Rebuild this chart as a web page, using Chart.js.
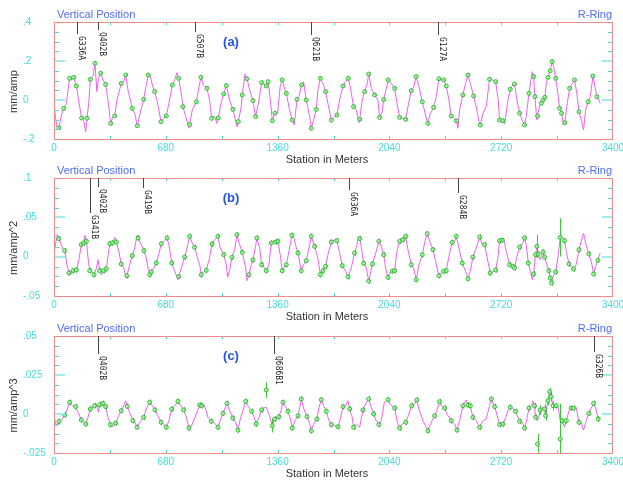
<!DOCTYPE html>
<html>
<head>
<meta charset="utf-8">
<script src="https://cdn.jsdelivr.net/npm/chart.js@4.4.1/dist/chart.umd.min.js"></script>
<style>
  html, body { margin: 0; padding: 0; background: #fff; }
  body { position: relative; width: 623px; height: 480px; overflow: hidden; }
  canvas { position: absolute; left: 0; display: block; }
</style>
</head>
<body>
<canvas id="chartA" width="623" height="166" style="top:0"></canvas>
<canvas id="chartB" width="623" height="156" style="top:166px"></canvas>
<canvas id="chartC" width="623" height="158" style="top:322px"></canvas>
<script>
/* Three stacked orbit-response panels: magenta fitted orbit, green BPM readings
   with error bars, element markers along the top edge. */

// [station m, value, 1 = BPM reading on this point]
const orbitA = [
  [0,-0.026],[10,-0.094],[18,-0.137],[30,-0.142,1],[45,-0.077],[59,-0.043,1],[75,-0.017],[95,0.111,1],[105,0.103],[120,0.116,1],
  [136,0.072,1],[156,-0.034],[168,-0.092,1],[180,-0.103],[193,-0.162],[201,-0.094,1],[213,0],[221,0.106,1],[237,0.120],[249,0.188,1],
  [261,0.043],[270,0.111],[284,0.137,1],[298,0.103],[314,0.080,1],[328,0],[345,-0.120,1],[355,-0.094],[369,-0.082,1],[383,0],
  [409,0.085,1],[424,0.094],[436,0.128,1],[450,0.051],[476,-0.043,1],[491,-0.068],[507,-0.132,1],[521,-0.077],[545,0.003,1],[561,0.077],
  [574,0.128,1],[586,0.123],[598,0.077],[612,0.043,1],[626,0],[651,-0.111,1],[667,-0.094],[683,-0.082,1],[703,0],[720,0.077,1],
  [734,0.103],[748,0.140],[758,0.111,1],[774,0.034],[784,-0.034,1],[801,-0.085],[821,-0.145],[825,-0.125,1],[841,-0.051],[866,-0.009,1],
  [882,0.068],[894,0.116,1],[910,0.077],[930,0.060,1],[946,0],[959,-0.094,1],[977,-0.085],[991,-0.120],[999,-0.092,1],[1016,-0.017],
  [1032,0.031,1],[1048,0.074,1],[1068,0],[1088,-0.048,1],[1113,-0.137],[1121,-0.111,1],[1139,-0.034],[1145,0.026,1],[1162,0.133],[1174,0.109,1],
  [1190,0.051],[1210,-0.003,1],[1226,-0.085,1],[1247,0],[1263,0.089,1],[1275,0.085],[1291,0.072,1],[1303,0.094,1],[1316,0],[1328,-0.106,1],
  [1344,-0.068,1],[1360,-0.068],[1376,0.072],[1388,0.103,1],[1405,0.051],[1413,0.034,1],[1433,-0.051],[1449,-0.103,1],[1461,-0.128],[1478,0.003,1],
  [1490,0.017],[1506,0.077,1],[1518,0.094],[1534,0,1],[1555,-0.085],[1565,-0.145,1],[1579,-0.103],[1595,-0.048,1],[1605,0.051],[1620,0.111,1],
  [1636,0.085],[1652,0.043,1],[1666,-0.017],[1687,-0.103,1],[1707,-0.085],[1721,-0.077,1],[1737,0],[1758,0.072,1],[1774,0.094],[1790,0.111,1],
  [1802,0.068],[1822,-0.034,1],[1839,-0.051],[1855,-0.116],[1859,-0.099,1],[1875,0],[1889,0.043,1],[1905,0.085],[1914,0.133,1],[1930,0.060],
  [1950,0.026,1],[1970,0],[1980,-0.089,1],[1997,-0.060],[2005,0.003,1],[2025,0.072],[2033,0.103,1],[2051,0.085],[2072,0.060,1],[2086,-0.017],
  [2102,-0.089,1],[2122,-0.094],[2139,-0.099,1],[2153,-0.034],[2173,0.048,1],[2187,0.065],[2203,0.120,1],[2220,0.068],[2240,-0.009,1],[2260,-0.077],
  [2274,-0.120,1],[2289,-0.068],[2309,-0.038,1],[2325,0.017],[2341,0.109,1],[2355,0.103],[2370,0.103,1],[2386,0.072,1],[2402,0],[2416,-0.082,1],
  [2430,-0.094],[2447,-0.106,1],[2457,-0.145],[2467,-0.051],[2487,0.026,1],[2503,0.085],[2518,0.128,1],[2532,0.085],[2552,0.021,1],[2568,-0.034],
  [2585,-0.111],[2593,-0.128,1],[2609,-0.068],[2629,-0.034],[2649,0.106,1],[2666,0.103],[2686,0.094,1],[2702,0],[2710,-0.103,1],[2730,-0.106,1],
  [2741,-0.123],[2761,0],[2775,0.055,1],[2791,0.077],[2801,0.082,1],[2816,0],[2832,-0.068,1],[2848,-0.103],[2862,-0.128,1],[2872,-0.085],
  [2889,0.034,1],[2901,0.103],[2909,0.145],[2917,0.120,1],[2925,0.017,1],[2937,-0.103],[2941,-0.082,1],[2953,-0.034],[2964,-0.017,1],[2974,0,1],
  [2986,0.014,1],[2994,0.085],[3004,0.116,1],[3018,0.150,1],[3030,0.197,1],[3039,0.171],[3051,0.111,1],[3065,0.034],[3075,-0.043,1],[3087,-0.068,1],
  [3099,-0.128],[3107,-0.116,1],[3122,-0.017],[3136,0.060,1],[3152,0.085],[3166,0.103,1],[3180,0.034],[3193,-0.060,1],[3207,-0.103],[3221,-0.154],
  [3233,-0.051],[3249,-0.009,1],[3262,0.017],[3278,0.123,1],[3290,0.068],[3302,0.017,1],[3314,0],[3322,-0.017]
];

const orbitB = [
  [0,0.0047],[20,0.0280],[30,0.0229,1],[51,0.0110],[65,0.0076,1],[79,-0.0102],[91,-0.0208,1],[99,-0.0229],[116,-0.0178,1],[136,-0.0169,1],
  [152,-0.0038],[166,0.0153,1],[180,0.0174,1],[189,0.0271],[197,0.0195,1],[207,-0.0017],[217,-0.0178,1],[229,-0.0195],[243,-0.0229,1],[257,-0.0153],
  [268,-0.0038],[278,-0.0178,1],[290,-0.0229],[302,-0.0178,1],[318,-0.0153,1],[330,0.0025],[339,0.0165,1],[355,0.0174,1],[369,0.0246],[379,0.0186,1],
  [395,0.0059],[409,-0.0093,1],[424,-0.0144],[440,-0.0271],[444,-0.0242,1],[460,-0.0102],[476,0.0013,1],[491,0.0110],[505,0.0271],[511,0.0237,1],
  [531,0.0153],[547,0.0076,1],[561,-0.0017],[572,-0.0144],[582,-0.0229,1],[592,-0.0195,1],[606,-0.0144],[622,-0.0081,1],[639,0.0047],[653,0.0165,1],
  [669,0.0195],[687,0.0237,1],[699,0.0153],[716,-0.0081,1],[734,-0.0186],[754,-0.0292],[758,-0.0251,1],[774,-0.0144],[795,-0.0004,1],[809,0.0110],
  [825,0.0258,1],[841,0.0174],[855,0.0119,1],[870,0.0004],[886,-0.0102],[896,-0.0229,1],[910,-0.0195],[926,-0.0174,1],[946,-0.0017],[961,0.0161,1],
  [977,0.0216],[997,0.0258,1],[1011,0.0110],[1032,0.0025,1],[1048,-0.0102],[1056,-0.0263],[1068,-0.0178],[1082,-0.0008,1],[1099,0.0089],[1113,0.0280,1],
  [1129,0.0153],[1145,0.0055,1],[1166,-0.0144],[1174,-0.0305],[1186,-0.0229,1],[1200,-0.0102],[1210,-0.0042,1],[1226,0.0131],[1234,0.0237,1],[1251,0.0110],
  [1263,-0.0102,1],[1281,-0.0144],[1291,-0.0178,1],[1307,-0.0102],[1322,0.0174,1],[1336,0.0203],[1348,0.0186,1],[1362,0.0195,1],[1376,0.0025],[1388,-0.0178,1],
  [1403,-0.0123],[1413,-0.0102,1],[1429,0.0068],[1447,0.0271,1],[1461,0.0229],[1474,0.0110],[1484,0.0047,1],[1504,-0.0178,1],[1518,-0.0102],[1534,-0.0051,1],
  [1551,0.0110],[1565,0.0258,1],[1585,0.0131,1],[1605,-0.0017],[1620,-0.0229,1],[1636,-0.0178,1],[1652,-0.0123,1],[1666,0.0025],[1687,0.0186,1],[1707,0.0216],
  [1721,0.0203,1],[1737,0.0047],[1753,-0.0114,1],[1774,-0.0186],[1788,-0.0255,1],[1808,-0.0144],[1828,0.0047,1],[1843,0.0153],[1855,0.0258],[1859,0.0229,1],
  [1869,0.0131],[1883,-0.0085,1],[1899,-0.0136],[1914,-0.0310,1],[1937,-0.0093,1],[1960,0.0068],[1976,0.0195,1],[1991,0.0131],[2005,0.0025,1],[2017,-0.0144],
  [2031,-0.0263,1],[2045,-0.0195],[2057,-0.0186,1],[2072,-0.0178,1],[2086,0.0068],[2102,0.0195,1],[2122,0.0216,1],[2139,0.0258,1],[2153,0.0089],[2173,-0.0102,1],
  [2187,-0.0144],[2203,-0.0292,1],[2220,-0.0102],[2240,0.0025,1],[2256,0.0195],[2270,0.0292,1],[2285,0.0195],[2305,0.0089,1],[2321,-0.0059],[2341,-0.0242,1],
  [2355,-0.0208],[2370,-0.0186,1],[2386,-0.0178,1],[2402,0.0004],[2422,0.0182,1],[2437,0.0195],[2447,0.0258,1],[2463,0.0110],[2483,-0.0081,1],[2503,-0.0186],
  [2518,-0.0280,1],[2532,-0.0186],[2548,-0.0004,1],[2568,0.0110],[2589,0.0250,1],[2605,0.0153],[2619,0.0153,1],[2639,-0.0059],[2653,-0.0208,1],[2670,-0.0195],
  [2686,-0.0169,1],[2700,-0.0017],[2710,0.0203,1],[2726,0.0208,1],[2735,0.0237],[2751,0.0068],[2771,-0.0102,1],[2791,-0.0123,1],[2801,-0.0144,1],[2816,0.0004],
  [2832,0.0123,1],[2848,0.0161],[2862,0.0237,1],[2872,0.0153],[2885,-0.0081,1],[2897,-0.0186],[2909,-0.0292],[2917,-0.0220,1],[2929,0.0025,1],[2937,0.0131,1],
  [2945,0.0034,1],[2957,-0.0038],[2974,0.0059,1],[2984,-0.0008,1],[2998,-0.0102],[3010,-0.0178,1],[3018,-0.0271,1],[3026,-0.0335,1],[3039,-0.0229],[3051,-0.0195,1],
  [3065,-0.0017],[3079,0.0246,1],[3095,0.0229],[3105,0.0203,1],[3116,0.0068],[3132,-0.0093,1],[3146,-0.0123],[3160,-0.0157,1],[3176,-0.0102],[3193,0.0089,1],
  [3207,0.0195],[3221,0.0301],[3233,0.0174],[3253,0.0034,1],[3268,-0.0059],[3282,-0.0220,1],[3294,-0.0123],[3308,-0.0047,1],[3322,0.0047]
];

const orbitC = [
  [0,-0.0011],[14,-0.0075],[30,-0.0047,1],[45,-0.0043],[65,-0.0006,1],[79,0.0026],[95,0.0075,1],[111,0.0053],[132,0.0047,1],[146,0.0011],
  [166,-0.0038,1],[180,-0.0053],[193,-0.0064,1],[207,-0.0021],[221,0.0032,1],[237,0.0047],[247,0.0053,1],[261,0.0060],[270,0.0011],[278,0.0060,1],
  [288,0.0064],[298,0.0068,1],[314,0.0047,1],[328,-0.0021],[343,-0.0068,1],[359,-0.0081],[375,-0.0058,1],[389,-0.0021],[409,0.0021,1],[424,0.0053],
  [436,0.0085],[446,0.0049,1],[460,0.0011],[480,-0.0043,1],[493,-0.0053],[505,-0.0085,1],[521,-0.0053],[545,-0.0021,1],[561,0.0032],[582,0.0075,1],
  [598,0.0053],[614,0.0026,1],[632,-0.0011],[651,-0.0053,1],[667,-0.0064],[683,-0.0085,1],[699,-0.0043],[716,0.0032,1],[734,0.0053],[754,0.0081,1],
  [764,0.0064],[788,0.0026,1],[805,-0.0021],[821,-0.0090,1],[835,-0.0081],[845,-0.0053],[866,0],[886,0.0058,1],[898,0.0053,1],[910,0.0064],
  [922,0.0032],[936,-0.0021],[957,-0.0047,1],[977,-0.0058],[997,-0.0085,1],[1011,-0.0043],[1028,0.0004,1],[1040,0.0038],[1052,0.0068,1],[1068,0.0021],
  [1088,-0.0026,1],[1105,-0.0053],[1119,-0.0103,1],[1133,-0.0032],[1149,0.0021],[1166,0.0081,1],[1182,0.0047],[1202,0.0017,1],[1218,-0.0021],[1230,-0.0064,1],
  [1247,-0.0021],[1263,0.0026,1],[1275,0.0038],[1291,0.0043],[1311,-0.0011],[1328,-0.0075,1],[1342,-0.0032,1],[1356,-0.0021],[1368,-0.0017,1],[1382,0.0026],
  [1393,0.0075,1],[1409,0.0047],[1423,0.0017,1],[1437,-0.0026],[1449,-0.0090,1],[1466,-0.0043],[1484,-0.0011,1],[1494,0.0038],[1504,0.0096,1],[1518,0.0038],
  [1539,-0.0017,1],[1555,-0.0064],[1565,-0.0107,1],[1579,-0.0064],[1599,-0.0032,1],[1612,0.0043],[1626,0.0092,1],[1640,0.0053],[1656,0.0017,1],[1672,-0.0043],
  [1687,-0.0068,1],[1707,-0.0075],[1727,-0.0081,1],[1741,-0.0032],[1758,0.0047,1],[1774,0.0053],[1788,0.0085],[1798,0.0032,1],[1814,-0.0021],[1822,-0.0085,1],
  [1839,-0.0064],[1859,-0.0085],[1879,0.0026,1],[1895,0.0064],[1914,0.0096,1],[1930,0.0043],[1944,0,1],[1960,-0.0043],[1976,-0.0068,1],[1991,-0.0043],
  [2009,0.0075],[2033,0.0092,1],[2045,0.0064],[2072,0.0038,1],[2086,-0.0043],[2102,-0.0090,1],[2118,-0.0064],[2139,-0.0053,1],[2155,-0.0011],[2175,0.0053,1],
  [2193,0.0064],[2207,0.0090,1],[2220,0.0032],[2244,-0.0043],[2274,-0.0107,1],[2295,-0.0053],[2315,-0.0011,1],[2329,0.0021],[2345,0.0079,1],[2362,0.0047],
  [2376,0.0038,1],[2390,0],[2416,-0.0043,1],[2437,-0.0064],[2451,-0.0103,1],[2467,-0.0043],[2487,0.0053,1],[2508,0.0090],[2518,0.0058,1],[2532,0.0053,1],
  [2548,-0.0021,1],[2568,-0.0043],[2589,-0.0085,1],[2609,-0.0043],[2629,-0.0032],[2649,0.0053],[2660,0.0096,1],[2680,0.0047,1],[2700,-0.0026],[2710,-0.0068,1],
  [2730,-0.0064,1],[2747,-0.0026],[2761,0.0021],[2775,0.0043,1],[2791,0.0038],[2807,0.0017,1],[2822,-0.0021],[2832,-0.0047,1],[2848,-0.0053],[2862,-0.0090,1],
  [2876,-0.0032],[2889,0.0038,1],[2903,0.0053],[2913,0.0085],[2923,0.0053,1],[2929,-0.0021,1],[2941,-0.0043],[2949,-0.0021],[2957,0.0026,1],[2970,0.0043],
  [2984,0.0032,1],[2990,-0.0011,1],[3004,0.0085,1],[3014,0.0143,1],[3024,0.0111,1],[3035,0.0053,1],[3045,0.0043],[3055,0.0053,1],[3067,0.0043],[3079,-0.0043],
  [3091,-0.0043,1],[3105,-0.0085],[3116,-0.0043,1],[3132,0.0021],[3146,0.0038,1],[3160,0.0038,1],[3176,0.0043],[3193,-0.0053,1],[3207,-0.0058],[3221,-0.0103],
  [3237,-0.0043],[3253,0.0004,1],[3268,0.0038],[3282,0.0068,1],[3294,0.0043],[3310,-0.0032,1],[3322,-0.0017]
];

// BPM readings that sit off the fitted orbit: [station, value, error]
const offOrbitC = [[1291,0.0154,0.005],[2941,-0.0192,0.0065],[3079,-0.0160,0.0225]];

// typical error bar half-width per panel, and the larger ones: [station, error]
const errA = 0.009, errB = 0.0035, errC = 0.0018;
const wideErrB = [[2937,0.015],[3079,0.0244]];
const wideErrC = [[1328,0.0043],[2957,0.003],[2984,0.003],[2990,0.003],[3004,0.003],[3014,0.0025],[3024,0.003],[3035,0.003]];

// lattice elements marked along the top edge
const elemNamesA = ['G336A','Q402B','G507B','Q621B','G127A'];
const elemPosA   = [141, 265, 856, 1562, 2333];
const elemNamesB = ['G341B','Q402B','G419B','G636A','G284B'];
const elemPosB   = [219, 265, 542, 1797, 2457];
const elemNamesC = ['Q402B','Q686B1','G326B'];
const elemPosC   = [265, 1338, 3287];

// stem lengths in px for the element markers
const stemA = [12, 8, 10, 13, 13];
const stemB = [35, 9, 10, 12, 15];
const stemC = [18, 18, 16];

const CYAN = '#44dddd';
const TEXT_FONT = '"Liberation Sans", Arial, sans-serif';

const panels = [
  { id: 'chartA', h: 166, top: 22, bottom: 139, yMin: -0.2, yMax: 0.4, major: 0.2, minor: 0.05,
    yTitle: 'mm/amp', tag: '(a)', orbit: orbitA, off: [], err: errA, wide: [],
    names: elemNamesA, pos: elemPosA, stem: stemA },
  { id: 'chartB', h: 156, top: 12, bottom: 130, yMin: -0.05, yMax: 0.1, major: 0.05, minor: 0.0125,
    yTitle: 'mm/amp^2', tag: '(b)', orbit: orbitB, off: [], err: errB, wide: wideErrB,
    names: elemNamesB, pos: elemPosB, stem: stemB },
  { id: 'chartC', h: 158, top: 14, bottom: 131, yMin: -0.025, yMax: 0.05, major: 0.025, minor: 0.00625,
    yTitle: 'mm/amp^3', tag: '(c)', orbit: orbitC, off: offOrbitC, err: errC, wide: wideErrC,
    names: elemNamesC, pos: elemPosC, stem: stemC }
];

function shortNum(v) {
  const s = String(parseFloat(v.toFixed(4)));
  return s.replace(/^(-?)0\./, '$1.');
}

function decor(p, bpm) {
  return {
    id: 'decor',
    beforeDatasetDraw(chart, args) {
      if (args.index !== 0) return;
      const { ctx, chartArea: a, scales: { x, y } } = chart;
      ctx.save();
      ctx.beginPath();
      ctx.rect(a.left, a.top, a.width, a.height);
      ctx.clip();
      ctx.strokeStyle = '#33cc33';
      ctx.lineWidth = 1;
      bpm.forEach(([s, v, e]) => {
        const px = Math.round(x.getPixelForValue(s)) + 0.5;
        ctx.beginPath();
        ctx.moveTo(px, y.getPixelForValue(v + e));
        ctx.lineTo(px, y.getPixelForValue(v - e));
        ctx.stroke();
      });
      ctx.restore();
    },
    afterDraw(chart) {
      const { ctx, chartArea: a, scales: { x, y } } = chart;
      ctx.save();

      // inward ticks, left and right
      for (let k = 1; ; k++) {
        const v = p.yMin + k * p.minor;
        if (v >= p.yMax - p.minor / 10) break;
        const major = Math.abs(v / p.major - Math.round(v / p.major)) < 1e-6;
        const py = major ? Math.round(y.getPixelForValue(v)) : Math.round(y.getPixelForValue(v)) + 0.5;
        const len = major ? 11 : 5;
        ctx.strokeStyle = major ? '#9ceeee' : CYAN;
        ctx.lineWidth = major ? 2 : 1;
        ctx.beginPath();
        ctx.moveTo(a.left, py); ctx.lineTo(a.left + len, py);
        ctx.moveTo(a.right, py); ctx.lineTo(a.right - len, py);
        ctx.stroke();
      }
      // inward ticks, top and bottom
      ctx.strokeStyle = CYAN;
      ctx.lineWidth = 1;
      for (let s = 340; s < 3400; s += 340) {
        const px = Math.round(x.getPixelForValue(s)) + 0.5;
        ctx.beginPath();
        ctx.moveTo(px, a.top); ctx.lineTo(px, a.top + 3);
        ctx.moveTo(px, a.bottom); ctx.lineTo(px, a.bottom - 3);
        ctx.stroke();
      }

      // frame
      ctx.strokeStyle = '#f38b8b';
      ctx.strokeRect(Math.round(a.left) + 0.5, Math.round(a.top) + 0.5,
        Math.round(a.width) - 1, Math.round(a.height));

      // element markers
      ctx.strokeStyle = '#444';
      ctx.fillStyle = '#222';
      ctx.font = '8px "DejaVu Sans Mono", monospace';
      ctx.textAlign = 'left';
      ctx.textBaseline = 'alphabetic';
      p.names.forEach((name, i) => {
        const px = Math.round(x.getPixelForValue(p.pos[i])) + 0.5;
        const end = a.top + p.stem[i];
        ctx.beginPath();
        ctx.moveTo(px, a.top); ctx.lineTo(px, end);
        ctx.stroke();
        ctx.save();
        ctx.translate(px + 1, end + 2);
        ctx.rotate(Math.PI / 2);
        ctx.fillText(name, 0, 0);
        ctx.restore();
      });

      // headings
      ctx.textBaseline = 'middle';
      ctx.font = '11px ' + TEXT_FONT;
      ctx.fillStyle = '#4f6cff';
      ctx.textAlign = 'left';
      ctx.fillText('Vertical Position', 57, a.top - 7.5);
      ctx.textAlign = 'right';
      ctx.fillText('R-Ring', 612, a.top - 7.5);

      ctx.font = 'bold 13px ' + TEXT_FONT;
      ctx.fillStyle = '#2452f0';
      ctx.textAlign = 'center';
      ctx.fillText(p.tag, 231, a.top + 20);

      // axis titles
      ctx.font = '11px ' + TEXT_FONT;
      ctx.fillStyle = '#333';
      ctx.fillText('Station in Meters', 327, a.bottom + 20.5);
      ctx.save();
      ctx.translate(14, a.top + a.height / 2 + 11);
      ctx.rotate(-Math.PI / 2);
      ctx.fillText(p.yTitle, 0, 0);
      ctx.restore();

      ctx.restore();
    }
  };
}

panels.forEach(p => {
  const wide = new Map(p.wide);
  const bpm = p.orbit.filter(d => d[2]).map(([s, v]) => [s, v, wide.has(s) ? wide.get(s) : p.err])
    .concat(p.off);

  new Chart(document.getElementById(p.id), {
    type: 'scatter',
    data: {
      datasets: [
        {
          label: 'BPM',
          data: bpm.map(([s, v]) => ({ x: s, y: v })),
          pointRadius: 2,
          pointHoverRadius: 2,
          pointBorderWidth: 1,
          pointBorderColor: '#33bb33',
          pointBackgroundColor: 'rgba(170,238,170,0.75)',
          showLine: false
        },
        {
          label: 'Orbit',
          data: p.orbit.map(([s, v]) => ({ x: s, y: v })),
          showLine: true,
          borderColor: '#f060f0',
          borderWidth: 1,
          pointRadius: 0,
          tension: 0
        }
      ]
    },
    options: {
      responsive: false,
      animation: false,
      devicePixelRatio: 1,
      layout: { padding: { left: 23, right: 10, top: p.top, bottom: 0 } },
      plugins: { legend: { display: false }, tooltip: { enabled: false } },
      scales: {
        x: {
          type: 'linear', min: 0, max: 3400,
          grid: { display: false, drawTicks: false },
          border: { display: false },
          ticks: { stepSize: 680, autoSkip: false, maxRotation: 0, padding: 3, color: CYAN,
                   font: { family: TEXT_FONT, size: 10 }, callback: v => String(v) },
          afterFit: s => { s.height = p.h - p.bottom; s.paddingLeft = 0; s.paddingRight = 0; }
        },
        y: {
          type: 'linear', min: p.yMin, max: p.yMax,
          grid: { display: false, drawTicks: false },
          border: { display: false },
          ticks: { stepSize: p.major, crossAlign: 'far', padding: 0, color: CYAN,
                   font: { family: TEXT_FONT, size: 10 }, callback: v => shortNum(v) },
          afterFit: s => { s.width = 31; s.paddingTop = 0; s.paddingBottom = 0; }
        }
      }
    },
    plugins: [decor(p, bpm)]
  });
});
</script>
</body>
</html>
